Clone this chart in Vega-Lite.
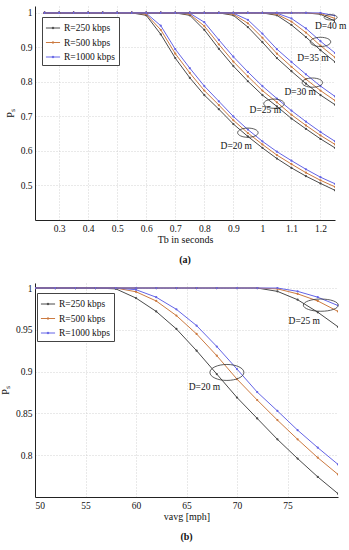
{
  "$schema": "https://vega.github.io/schema/vega-lite/v6.json",
  "background": "white",
  "padding": {"left": 0, "top": 6, "right": 0, "bottom": 5},
  "spacing": 18,
  "config": {
    "font": "Liberation Serif",
    "view": {"stroke": null},
    "axis": {
      "labelFont": "Liberation Serif", "labelFontSize": 9.5, "labelColor": "#111",
      "titleFont": "Liberation Serif", "titleFontSize": 10, "titleFontWeight": "normal", "titleColor": "#111",
      "domainColor": "#222", "domainWidth": 1,
      "ticks": false, "labelPadding": 3, "labelOverlap": false,
      "gridColor": "#c8c8c8", "gridDash": [1, 2], "gridWidth": 0.8
    },
    "axisX": {"labelOverlap": false},
    "axisQuantitative": {"labelOverlap": false},
    "legend": {
      "labelFont": "Liberation Serif", "labelFontSize": 9.5, "labelColor": "#111",
      "strokeColor": "#444", "fillColor": "white", "padding": 3, "rowPadding": 1.5,
      "symbolType": "M-1,0L1,0M-0.12,0A0.12,0.12 0 1,0 0.12,0A0.12,0.12 0 1,0 -0.12,0Z",
      "symbolSize": 200, "symbolStrokeWidth": 1, "labelOffset": 3
    },
    "title": {"font": "Liberation Serif", "fontSize": 10, "fontWeight": "bold", "color": "#111"}
  },
  "datasets": {
    "top": [
      {"D":20,"T":0.25,"250":1,"500":1,"1000":1},{"D":20,"T":0.3,"250":1,"500":1,"1000":1},{"D":20,"T":0.35,"250":1,"500":1,"1000":1},{"D":20,"T":0.4,"250":1,"500":1,"1000":1},{"D":20,"T":0.45,"250":1,"500":1,"1000":1},{"D":20,"T":0.5,"250":1,"500":1,"1000":1},{"D":20,"T":0.55,"250":1,"500":1,"1000":1},
      {"D":20,"T":0.6,"250":0.993,"500":0.996,"1000":0.999},
      {"D":20,"T":0.65,"250":0.938,"500":0.951,"1000":0.963},
      {"D":20,"T":0.7,"250":0.869,"500":0.882,"1000":0.895},
      {"D":20,"T":0.75,"250":0.812,"500":0.826,"1000":0.84},
      {"D":20,"T":0.8,"250":0.762,"500":0.775,"1000":0.788},
      {"D":20,"T":0.85,"250":0.721,"500":0.733,"1000":0.744},
      {"D":20,"T":0.9,"250":0.678,"500":0.689,"1000":0.7},
      {"D":20,"T":0.95,"250":0.642,"500":0.652,"1000":0.662},
      {"D":20,"T":1.0,"250":0.609,"500":0.619,"1000":0.628},
      {"D":20,"T":1.05,"250":0.578,"500":0.588,"1000":0.598},
      {"D":20,"T":1.1,"250":0.551,"500":0.562,"1000":0.572},
      {"D":20,"T":1.15,"250":0.527,"500":0.537,"1000":0.547},
      {"D":20,"T":1.2,"250":0.506,"500":0.515,"1000":0.524},
      {"D":20,"T":1.25,"250":0.486,"500":0.496,"1000":0.505},

      {"D":25,"T":0.25,"250":1,"500":1,"1000":1},{"D":25,"T":0.3,"250":1,"500":1,"1000":1},{"D":25,"T":0.35,"250":1,"500":1,"1000":1},{"D":25,"T":0.4,"250":1,"500":1,"1000":1},{"D":25,"T":0.45,"250":1,"500":1,"1000":1},{"D":25,"T":0.5,"250":1,"500":1,"1000":1},{"D":25,"T":0.55,"250":1,"500":1,"1000":1},{"D":25,"T":0.6,"250":1,"500":1,"1000":1},{"D":25,"T":0.65,"250":1,"500":1,"1000":1},{"D":25,"T":0.7,"250":1,"500":1,"1000":1},
      {"D":25,"T":0.75,"250":0.993,"500":0.996,"1000":0.999},
      {"D":25,"T":0.8,"250":0.951,"500":0.962,"1000":0.973},
      {"D":25,"T":0.85,"250":0.896,"500":0.909,"1000":0.922},
      {"D":25,"T":0.9,"250":0.846,"500":0.859,"1000":0.873},
      {"D":25,"T":0.95,"250":0.802,"500":0.816,"1000":0.829},
      {"D":25,"T":1.0,"250":0.762,"500":0.775,"1000":0.788},
      {"D":25,"T":1.05,"250":0.729,"500":0.741,"1000":0.752},
      {"D":25,"T":1.1,"250":0.694,"500":0.705,"1000":0.717},
      {"D":25,"T":1.15,"250":0.664,"500":0.674,"1000":0.685},
      {"D":25,"T":1.2,"250":0.635,"500":0.645,"1000":0.655},
      {"D":25,"T":1.25,"250":0.609,"500":0.619,"1000":0.628},

      {"D":30,"T":0.25,"250":1,"500":1,"1000":1},{"D":30,"T":0.3,"250":1,"500":1,"1000":1},{"D":30,"T":0.35,"250":1,"500":1,"1000":1},{"D":30,"T":0.4,"250":1,"500":1,"1000":1},{"D":30,"T":0.45,"250":1,"500":1,"1000":1},{"D":30,"T":0.5,"250":1,"500":1,"1000":1},{"D":30,"T":0.55,"250":1,"500":1,"1000":1},{"D":30,"T":0.6,"250":1,"500":1,"1000":1},{"D":30,"T":0.65,"250":1,"500":1,"1000":1},{"D":30,"T":0.7,"250":1,"500":1,"1000":1},{"D":30,"T":0.75,"250":1,"500":1,"1000":1},{"D":30,"T":0.8,"250":1,"500":1,"1000":1},{"D":30,"T":0.85,"250":1,"500":1,"1000":1},
      {"D":30,"T":0.9,"250":0.993,"500":0.996,"1000":0.999},
      {"D":30,"T":0.95,"250":0.959,"500":0.97,"1000":0.98},
      {"D":30,"T":1.0,"250":0.915,"500":0.928,"1000":0.94},
      {"D":30,"T":1.05,"250":0.869,"500":0.882,"1000":0.895},
      {"D":30,"T":1.1,"250":0.831,"500":0.844,"1000":0.858},
      {"D":30,"T":1.15,"250":0.795,"500":0.808,"1000":0.822},
      {"D":30,"T":1.2,"250":0.762,"500":0.775,"1000":0.788},
      {"D":30,"T":1.25,"250":0.734,"500":0.746,"1000":0.758},

      {"D":35,"T":0.25,"250":1,"500":1,"1000":1},{"D":35,"T":0.3,"250":1,"500":1,"1000":1},{"D":35,"T":0.35,"250":1,"500":1,"1000":1},{"D":35,"T":0.4,"250":1,"500":1,"1000":1},{"D":35,"T":0.45,"250":1,"500":1,"1000":1},{"D":35,"T":0.5,"250":1,"500":1,"1000":1},{"D":35,"T":0.55,"250":1,"500":1,"1000":1},{"D":35,"T":0.6,"250":1,"500":1,"1000":1},{"D":35,"T":0.65,"250":1,"500":1,"1000":1},{"D":35,"T":0.7,"250":1,"500":1,"1000":1},{"D":35,"T":0.75,"250":1,"500":1,"1000":1},{"D":35,"T":0.8,"250":1,"500":1,"1000":1},{"D":35,"T":0.85,"250":1,"500":1,"1000":1},{"D":35,"T":0.9,"250":1,"500":1,"1000":1},{"D":35,"T":0.95,"250":1,"500":1,"1000":1},{"D":35,"T":1.0,"250":1,"500":1,"1000":1},
      {"D":35,"T":1.05,"250":0.993,"500":0.996,"1000":0.999},
      {"D":35,"T":1.1,"250":0.965,"500":0.975,"1000":0.984},
      {"D":35,"T":1.15,"250":0.93,"500":0.943,"1000":0.955},
      {"D":35,"T":1.2,"250":0.892,"500":0.905,"1000":0.918},
      {"D":35,"T":1.25,"250":0.858,"500":0.871,"1000":0.884},

      {"D":40,"T":0.25,"250":1,"500":1,"1000":1},{"D":40,"T":0.3,"250":1,"500":1,"1000":1},{"D":40,"T":0.35,"250":1,"500":1,"1000":1},{"D":40,"T":0.4,"250":1,"500":1,"1000":1},{"D":40,"T":0.45,"250":1,"500":1,"1000":1},{"D":40,"T":0.5,"250":1,"500":1,"1000":1},{"D":40,"T":0.55,"250":1,"500":1,"1000":1},{"D":40,"T":0.6,"250":1,"500":1,"1000":1},{"D":40,"T":0.65,"250":1,"500":1,"1000":1},{"D":40,"T":0.7,"250":1,"500":1,"1000":1},{"D":40,"T":0.75,"250":1,"500":1,"1000":1},{"D":40,"T":0.8,"250":1,"500":1,"1000":1},{"D":40,"T":0.85,"250":1,"500":1,"1000":1},{"D":40,"T":0.9,"250":1,"500":1,"1000":1},{"D":40,"T":0.95,"250":1,"500":1,"1000":1},{"D":40,"T":1.0,"250":1,"500":1,"1000":1},{"D":40,"T":1.05,"250":1,"500":1,"1000":1},{"D":40,"T":1.1,"250":1,"500":1,"1000":1},{"D":40,"T":1.15,"250":1,"500":1,"1000":1},
      {"D":40,"T":1.2,"250":0.996,"500":0.998,"1000":1},
      {"D":40,"T":1.25,"250":0.976,"500":0.984,"1000":0.992}
    ],
    "bottom": [
      {"D":20,"v":50,"250":1,"500":1,"1000":1},{"D":20,"v":52,"250":1,"500":1,"1000":1},{"D":20,"v":54,"250":1,"500":1,"1000":1},{"D":20,"v":56,"250":1,"500":1,"1000":1},
      {"D":20,"v":58,"250":0.999,"500":1,"1000":1},
      {"D":20,"v":60,"250":0.988,"500":0.9955,"1000":0.998},
      {"D":20,"v":62,"250":0.972,"500":0.9845,"1000":0.989},
      {"D":20,"v":64,"250":0.951,"500":0.967,"1000":0.9745},
      {"D":20,"v":66,"250":0.925,"500":0.945,"1000":0.955},
      {"D":20,"v":68,"250":0.897,"500":0.919,"1000":0.93},
      {"D":20,"v":70,"250":0.869,"500":0.891,"1000":0.903},
      {"D":20,"v":72,"250":0.844,"500":0.866,"1000":0.8755},
      {"D":20,"v":74,"250":0.819,"500":0.842,"1000":0.853},
      {"D":20,"v":76,"250":0.796,"500":0.819,"1000":0.83},
      {"D":20,"v":78,"250":0.774,"500":0.797,"1000":0.809},
      {"D":20,"v":80,"250":0.754,"500":0.777,"1000":0.789},
      {"D":25,"v":50,"250":1,"500":1,"1000":1},{"D":25,"v":52,"250":1,"500":1,"1000":1},{"D":25,"v":54,"250":1,"500":1,"1000":1},{"D":25,"v":56,"250":1,"500":1,"1000":1},{"D":25,"v":58,"250":1,"500":1,"1000":1},{"D":25,"v":60,"250":1,"500":1,"1000":1},{"D":25,"v":62,"250":1,"500":1,"1000":1},{"D":25,"v":64,"250":1,"500":1,"1000":1},{"D":25,"v":66,"250":1,"500":1,"1000":1},{"D":25,"v":68,"250":1,"500":1,"1000":1},{"D":25,"v":70,"250":1,"500":1,"1000":1},{"D":25,"v":72,"250":1,"500":1,"1000":1},
      {"D":25,"v":74,"250":0.996,"500":0.999,"1000":1},
      {"D":25,"v":76,"250":0.986,"500":0.993,"1000":0.996},
      {"D":25,"v":78,"250":0.971,"500":0.9845,"1000":0.989},
      {"D":25,"v":80,"250":0.9536,"500":0.972,"1000":0.979}
    ],
    "topLabels": [
      {"T":0.91,"P":0.613,"label":"D=20 m"},
      {"T":1.01,"P":0.72,"label":"D=25 m"},
      {"T":1.13,"P":0.772,"label":"D=30 m"},
      {"T":1.174,"P":0.87,"label":"D=35 m"},
      {"T":1.235,"P":0.962,"label":"D=40 m"}
    ],
    "topEllipses": [
      {"T":0.95,"P":0.653},
      {"T":1.04,"P":0.737},
      {"T":1.172,"P":0.798},
      {"T":1.2,"P":0.916}
    ],
    "topEllipseSmall": [
      {"T":1.235,"P":0.987}
    ],
    "bottomLabels": [
      {"v":66.78,"P":0.881,"label":"D=20 m"},
      {"v":76.66,"P":0.961,"label":"D=25 m"}
    ],
    "bottomEllipse20": [{"v":69.0,"P":0.899}],
    "bottomEllipse25": [{"v":78.3,"P":0.9795}]
  },
  "resolve": {"legend": {"color": "independent"}},
  "vconcat": [
    {
      "width": 300,
      "height": 214,
      "title": {"text": "(a)", "orient": "bottom", "anchor": "middle", "offset": 10},
      "layer": [
        {
          "data": {"name": "top"},
          "transform": [{"fold": ["250", "500", "1000"], "as": ["R", "P"]}],
          "mark": {"type": "line", "strokeWidth": 1, "clip": true},
          "encoding": {
            "x": {"field": "T", "type": "quantitative", "scale": {"domain": [0.217, 1.25], "nice": false, "zero": false},
                  "axis": {"title": "Tb in seconds", "tickCount": 10, "values": [0.3,0.4,0.5,0.6,0.7,0.8,0.9,1,1.1,1.2], "labelExpr": "format(datum.value, '~g')", "titlePadding": 2, "labelOverlap": false, "labelFlush": false}},
            "y": {"field": "P", "type": "quantitative", "scale": {"domain": [0.4, 1.02], "nice": false, "zero": false},
                  "axis": {"title": "Pₛ", "values": [0.5,0.6,0.7,0.8,0.9,1], "format": "~g", "titlePadding": 5, "labelOverlap": false}},
            "color": {"field": "R", "type": "nominal",
                      "scale": {"domain": ["250", "500", "1000"], "range": ["#4a4a4a", "#cc7a40", "#6464e6"]},
                      "sort": ["250", "500", "1000"],
                      "legend": {"title": null, "orient": "none", "legendX": 7, "legendY": 11,
                                 "labelExpr": "'R=' + datum.label + ' kbps'"}},
            "detail": {"field": "D"}
          }
        },
        {
          "data": {"name": "top"},
          "transform": [{"fold": ["250", "500", "1000"], "as": ["R", "P"]}],
          "mark": {"type": "point", "filled": true, "size": 5, "opacity": 1, "clip": true},
          "encoding": {
            "x": {"field": "T", "type": "quantitative"},
            "y": {"field": "P", "type": "quantitative"},
            "color": {"field": "R", "type": "nominal", "sort": ["250", "500", "1000"]}
          }
        },
        {
          "data": {"name": "topEllipses"},
          "mark": {"type": "point", "shape": "M-1,0A1,0.45 0 1,1 1,0A1,0.45 0 1,1 -1,0Z", "size": 420, "filled": false, "stroke": "#333", "strokeWidth": 0.8, "opacity": 1},
          "encoding": {
            "x": {"field": "T", "type": "quantitative"},
            "y": {"field": "P", "type": "quantitative"}
          }
        },
        {
          "data": {"name": "topEllipseSmall"},
          "mark": {"type": "point", "shape": "M-1,0A1,0.4 0 1,1 1,0A1,0.4 0 1,1 -1,0Z", "size": 170, "filled": false, "stroke": "#333", "strokeWidth": 0.8, "opacity": 1},
          "encoding": {
            "x": {"field": "T", "type": "quantitative"},
            "y": {"field": "P", "type": "quantitative"}
          }
        },
        {
          "data": {"name": "topLabels"},
          "mark": {"type": "text", "font": "Liberation Serif", "fontSize": 9.5, "color": "#111"},
          "encoding": {
            "x": {"field": "T", "type": "quantitative"},
            "y": {"field": "P", "type": "quantitative"},
            "text": {"field": "label"}
          }
        }
      ]
    },
    {
      "width": 303,
      "height": 214,
      "title": {"text": "(b)", "orient": "bottom", "anchor": "middle", "offset": 10},
      "layer": [
        {
          "data": {"name": "bottom"},
          "transform": [{"fold": ["250", "500", "1000"], "as": ["R", "P"]}],
          "mark": {"type": "line", "strokeWidth": 1, "clip": true},
          "encoding": {
            "x": {"field": "v", "type": "quantitative", "scale": {"domain": [50, 80], "nice": false, "zero": false},
                  "axis": {"title": "vavg [mph]", "values": [50,55,60,65,70,75], "titlePadding": 2, "labelOverlap": false}},
            "y": {"field": "P", "type": "quantitative", "scale": {"domain": [0.75, 1.006], "nice": false, "zero": false},
                  "axis": {"title": "Pₛ", "values": [0.8,0.85,0.9,0.95,1], "format": "~g", "titlePadding": 5, "labelOverlap": false}},
            "color": {"field": "R", "type": "nominal",
                      "scale": {"domain": ["250", "500", "1000"], "range": ["#4a4a4a", "#cc7a40", "#6464e6"]},
                      "sort": ["250", "500", "1000"],
                      "legend": {"title": null, "orient": "none", "legendX": 2, "legendY": 10,
                                 "labelExpr": "'R=' + datum.label + ' kbps'"}},
            "detail": {"field": "D"}
          }
        },
        {
          "data": {"name": "bottom"},
          "transform": [{"fold": ["250", "500", "1000"], "as": ["R", "P"]}],
          "mark": {"type": "point", "filled": true, "size": 5, "opacity": 1, "clip": true},
          "encoding": {
            "x": {"field": "v", "type": "quantitative"},
            "y": {"field": "P", "type": "quantitative"},
            "color": {"field": "R", "type": "nominal", "sort": ["250", "500", "1000"]}
          }
        },
        {
          "data": {"name": "bottomEllipse20"},
          "mark": {"type": "point", "shape": "M-1,0A1,0.47 0 1,1 1,0A1,0.47 0 1,1 -1,0Z", "size": 1156, "filled": false, "stroke": "#333", "strokeWidth": 0.8, "opacity": 1},
          "encoding": {
            "x": {"field": "v", "type": "quantitative"},
            "y": {"field": "P", "type": "quantitative"}
          }
        },
        {
          "data": {"name": "bottomEllipse25"},
          "mark": {"type": "point", "shape": "M-1,0A1,0.35 0 1,1 1,0A1,0.35 0 1,1 -1,0Z", "size": 1225, "filled": false, "stroke": "#333", "strokeWidth": 0.8, "opacity": 1},
          "encoding": {
            "x": {"field": "v", "type": "quantitative"},
            "y": {"field": "P", "type": "quantitative"}
          }
        },
        {
          "data": {"name": "bottomLabels"},
          "mark": {"type": "text", "font": "Liberation Serif", "fontSize": 9.5, "color": "#111"},
          "encoding": {
            "x": {"field": "v", "type": "quantitative"},
            "y": {"field": "P", "type": "quantitative"},
            "text": {"field": "label"}
          }
        }
      ]
    }
  ]
}
